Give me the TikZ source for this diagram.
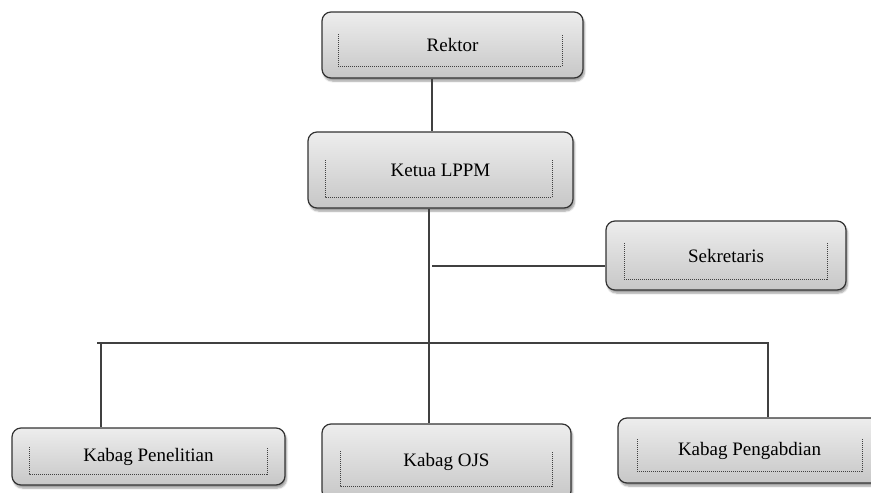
\documentclass[tikz,border=0pt]{standalone}
\usepackage{fontspec}
\setmainfont{Liberation Serif}
\usetikzlibrary{shadows.blur,calc}
\tikzset{
  orgbox/.style={draw=black!80, line width=1.2pt, rounded corners=9pt,
    top color=black!7, bottom color=black!22,
    blur shadow={shadow xshift=1.5pt, shadow yshift=-3pt, shadow blur steps=6, shadow opacity=40},
    font=\fontsize{19}{22}\selectfont, text=black, inner sep=0pt},
  inner/.style={draw=black!75, line width=1pt, dash pattern=on 1pt off 1pt},
  conn/.style={draw=black!75, line width=1.4pt}
}
\newcommand{\innerrect}[4]{\draw[inner] (#1,#2) -- (#1,#4) -- (#3,#4) -- (#3,#2);}
\begin{document}
\begin{tikzpicture}[x=1pt,y=-1pt]
\clip (0,0) rectangle (871,493);
\useasboundingbox (0,0) rectangle (871,493);
% nodes
\node[orgbox, minimum width=261pt, minimum height=66pt] (rk) at (452.5,45) {Rektor};
\node[orgbox, minimum width=265pt, minimum height=76pt] (kt) at (440.5,170) {Ketua LPPM};
\node[orgbox, minimum width=240pt, minimum height=69pt] (sk) at (726,255.5) {Sekretaris};
\node[orgbox, minimum width=273pt, minimum height=57pt] (pn) at (148.5,456.5) {Kabag Penelitian};
\node[orgbox, minimum width=249pt, minimum height=76pt] (oj) at (446.5,462) {Kabag OJS};
\node[orgbox, minimum width=263pt, minimum height=65pt] (pg) at (749.5,450.5) {Kabag Pengabdian};
% dotted inner frames
\innerrect{338}{34}{562}{66}
\innerrect{325}{160}{552}{197}
\innerrect{624}{243}{827}{279}
\innerrect{29}{447}{267}{474}
\innerrect{340}{451}{552}{486}
\innerrect{637}{439}{862}{471}
% helper coordinates
\coordinate (xa) at (432,0);
\coordinate (xt) at (429,0);
\coordinate (sj) at (432,266);
\coordinate (bl) at (97,343);
\coordinate (xp) at (101,0);
\coordinate (xg) at (768,0);
% connectors
\draw[conn] (rk.south -| xa) -- (kt.north -| xa);
\draw[conn] (kt.south -| xt) -- (oj.north -| xt);
\draw[conn] (sj) -- (sj -| sk.west);
\draw[conn] (bl) -- (bl -| xg) -- (pg.north -| xg);
\draw[conn] (bl -| xp) -- (pn.north -| xp);
\end{tikzpicture}
\end{document}
